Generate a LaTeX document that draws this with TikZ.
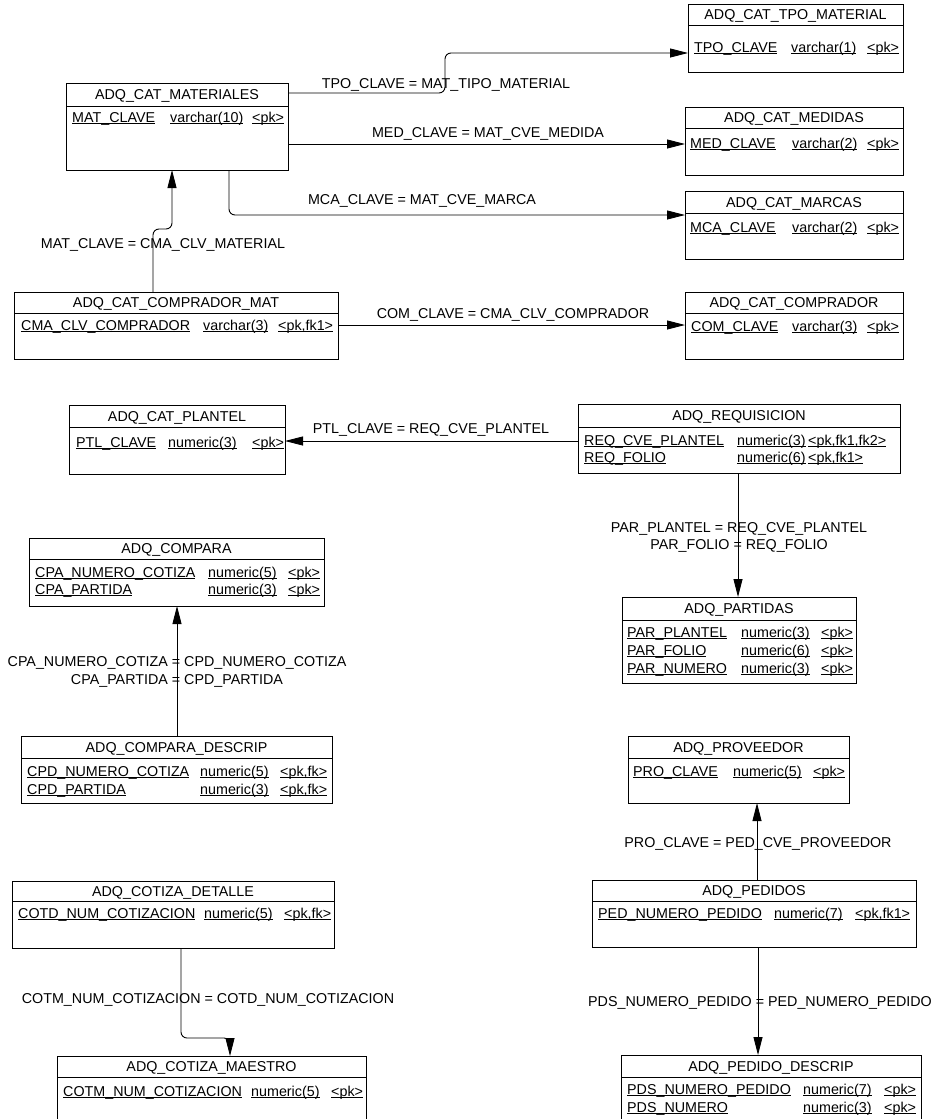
\documentclass[tikz,border=0pt]{standalone}
\usepackage{fontspec}
\setmainfont{Liberation Sans}
\usetikzlibrary{arrows.meta}
\newcommand\ulx[1]{\underline{\smash{#1}}}
% name, x1, y1, x2, y2, ydiv, title
\newcommand\ent[7]{%
  \node[entbox, minimum width={#4-#2}, minimum height={#5-#3}] (#1) at (#2,#3) {};
  \draw[sep] (#2,#6) -- (#4,#6);
  \node[txt] (#1-t) at ({(#2+#4)/2},{(#3+#6)/2}) {#7};
}
% prefix, y, x1, t1, x2, t2, x3, t3
\newcommand\fldrow[8]{%
  \node[fld] (#1a) at (#3,#2) {\ulx{#4}};
  \node[fld] (#1b) at (#5,#2) {\ulx{#6}};
  \node[fld] (#1c) at (#7,#2) {\ulx{#8}};
}
\begin{document}
\begin{tikzpicture}[x=1pt,y=-1pt,
  entbox/.style={draw, line width=0.9pt, inner sep=0pt, outer sep=0pt, anchor=north west},
  sep/.style={line width=0.9pt},
  txt/.style={inner sep=0pt, text height=10.3pt, text depth=0pt, font=\fontsize{14.3}{17}\selectfont},
  fld/.style={txt, anchor=west},
  fk/.style={line width=0.9pt, -{Triangle[length=18pt,width=9pt]}},
  rc/.style={rounded corners=6pt}]
\clip (0,0) rectangle (941,1119);
\fill[white] (0,0) rectangle (941,1119);

% entities
\ent{tpo}{688}{4}{903}{72}{25}{ADQ\_CAT\_TPO\_MATERIAL}
\fldrow{tpo1}{47}{694}{TPO\_CLAVE}{791}{varchar(1)}{867}{<pk>}

\ent{mat}{66}{83}{288}{170}{106}{ADQ\_CAT\_MATERIALES}
\fldrow{mat1}{117}{72}{MAT\_CLAVE}{170}{varchar(10)}{252}{<pk>}

\ent{med}{685}{107}{903}{175}{128}{ADQ\_CAT\_MEDIDAS}
\fldrow{med1}{143}{690}{MED\_CLAVE}{792}{varchar(2)}{867}{<pk>}

\ent{mca}{685}{191}{903}{259}{213}{ADQ\_CAT\_MARCAS}
\fldrow{mca1}{227}{690}{MCA\_CLAVE}{792}{varchar(2)}{867}{<pk>}

\ent{cmat}{14}{292}{338}{359}{313}{ADQ\_CAT\_COMPRADOR\_MAT}
\fldrow{cmat1}{325}{21}{CMA\_CLV\_COMPRADOR}{203}{varchar(3)}{278}{<pk,fk1>}

\ent{com}{685}{292}{903}{359}{313}{ADQ\_CAT\_COMPRADOR}
\fldrow{com1}{326}{691}{COM\_CLAVE}{792}{varchar(3)}{867}{<pk>}

\ent{ptl}{69}{405}{285}{474}{427}{ADQ\_CAT\_PLANTEL}
\fldrow{ptl1}{442}{76}{PTL\_CLAVE}{168}{numeric(3)}{252}{<pk>}

\ent{req}{578}{404}{900}{473}{427}{ADQ\_REQUISICION}
\fldrow{req1}{440}{584}{REQ\_CVE\_PLANTEL}{737}{numeric(3)}{808}{<pk,fk1,fk2>}
\fldrow{req2}{457}{584}{REQ\_FOLIO}{737}{numeric(6)}{808}{<pk,fk1>}

\ent{cpa}{29}{538}{324}{606}{559}{ADQ\_COMPARA}
\fldrow{cpa1}{572}{35}{CPA\_NUMERO\_COTIZA}{208}{numeric(5)}{288}{<pk>}
\fldrow{cpa2}{589}{35}{CPA\_PARTIDA}{208}{numeric(3)}{288}{<pk>}

\ent{cpd}{21}{736}{332}{803}{758}{ADQ\_COMPARA\_DESCRIP}
\fldrow{cpd1}{771}{27}{CPD\_NUMERO\_COTIZA}{200}{numeric(5)}{280}{<pk,fk>}
\fldrow{cpd2}{789}{27}{CPD\_PARTIDA}{200}{numeric(3)}{280}{<pk,fk>}

\ent{par}{622}{597}{856}{683}{620}{ADQ\_PARTIDAS}
\fldrow{par1}{632}{627}{PAR\_PLANTEL}{741}{numeric(3)}{821}{<pk>}
\fldrow{par2}{650}{627}{PAR\_FOLIO}{741}{numeric(6)}{821}{<pk>}
\fldrow{par3}{668}{627}{PAR\_NUMERO}{741}{numeric(3)}{821}{<pk>}

\ent{pro}{628}{736}{849}{803}{758}{ADQ\_PROVEEDOR}
\fldrow{pro1}{771}{633}{PRO\_CLAVE}{733}{numeric(5)}{813}{<pk>}

\ent{ped}{592}{880}{916}{947}{901}{ADQ\_PEDIDOS}
\fldrow{ped1}{913}{598}{PED\_NUMERO\_PEDIDO}{774}{numeric(7)}{855}{<pk,fk1>}

\ent{pds}{621}{1055}{921}{1130}{1077}{ADQ\_PEDIDO\_DESCRIP}
\fldrow{pds1}{1089}{627}{PDS\_NUMERO\_PEDIDO}{803}{numeric(7)}{884}{<pk>}
\fldrow{pds2}{1107}{627}{PDS\_NUMERO}{803}{numeric(3)}{884}{<pk>}

\ent{cotd}{12}{881}{334}{948}{901}{ADQ\_COTIZA\_DETALLE}
\fldrow{cotd1}{913}{18}{COTD\_NUM\_COTIZACION}{204}{numeric(5)}{284}{<pk,fk>}

\ent{cotm}{57}{1056}{366}{1130}{1077}{ADQ\_COTIZA\_MAESTRO}
\fldrow{cotm1}{1091}{63}{COTM\_NUM\_COTIZACION}{251}{numeric(5)}{331}{<pk>}

% connectors
\draw[fk,rc] ([yshift=-10pt]mat.north east) -- ++(157,0) |- ([yshift=-49pt]tpo.north west);
\draw[fk] ([yshift=-61pt]mat.north east) -- ([yshift=-37pt]med.north west);
\draw[fk,rc] ([xshift=163pt]mat.south west) |- ([yshift=-24pt]mca.north west);
\draw[fk,rc] ([xshift=139pt]cmat.north west) -- ++(0,-63) -| ([xshift=106pt]mat.south west);
\draw[fk] ([yshift=-33pt]cmat.north east) -- ([yshift=-33pt]com.north west);
\draw[fk] ([yshift=-37pt]req.north west) -- ([yshift=-36pt]ptl.north east);
\draw[fk] ([xshift=160pt]req.south west) -- ([xshift=116pt]par.north west);
\draw[fk] ([xshift=156pt]cpd.north west) -- ([xshift=148pt]cpa.south west);
\draw[fk] ([xshift=165pt]ped.north west) -- ([xshift=129pt]pro.south west);
\draw[fk] ([xshift=166pt]ped.south west) -- ([xshift=137pt]pds.north west);
\draw[fk] ([xshift=169pt]cotd.south west) [rounded corners=6pt] -- ++(0,90) -- ++(49,0) [sharp corners] -- ([xshift=173pt]cotm.north west);

% labels
\node[txt] (l1) at (446,83) {TPO\_CLAVE = MAT\_TIPO\_MATERIAL};
\node[txt] (l2) at (488,132) {MED\_CLAVE = MAT\_CVE\_MEDIDA};
\node[txt] (l3) at (422,199) {MCA\_CLAVE = MAT\_CVE\_MARCA};
\node[txt] (l4) at (163,243) {MAT\_CLAVE = CMA\_CLV\_MATERIAL};
\node[txt] (l5) at (513,313) {COM\_CLAVE = CMA\_CLV\_COMPRADOR};
\node[txt] (l6) at (431,428) {PTL\_CLAVE = REQ\_CVE\_PLANTEL};
\node[txt] (l7a) at (739,527) {PAR\_PLANTEL = REQ\_CVE\_PLANTEL};
\node[txt] (l7b) at (739,544) {PAR\_FOLIO = REQ\_FOLIO};
\node[txt] (l8a) at (177,661) {CPA\_NUMERO\_COTIZA = CPD\_NUMERO\_COTIZA};
\node[txt] (l8b) at (177,679) {CPA\_PARTIDA = CPD\_PARTIDA};
\node[txt] (l9) at (758,842) {PRO\_CLAVE = PED\_CVE\_PROVEEDOR};
\node[txt] (l10) at (760,1001) {PDS\_NUMERO\_PEDIDO = PED\_NUMERO\_PEDIDO};
\node[txt] (l11) at (208,998) {COTM\_NUM\_COTIZACION = COTD\_NUM\_COTIZACION};
\end{tikzpicture}
\end{document}
